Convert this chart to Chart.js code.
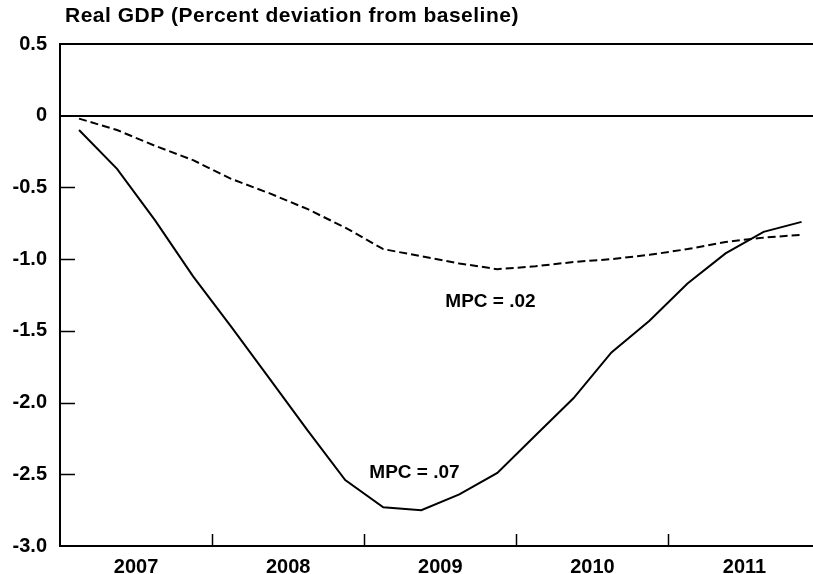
<!DOCTYPE html>
<html>
<head>
  <title>Real GDP</title>
  <script src="https://cdn.jsdelivr.net/npm/chart.js@4.4.0/dist/chart.umd.min.js"></script>
  <style>body { margin: 0; background: #fff; }</style>
</head>
<body>
  <canvas id="gdpChart" width="813" height="574"></canvas>

  <script>
    // quarterly simulation, percent deviation from baseline
    const quarters = ['2007Q1', '2007Q2', '2007Q3', '2007Q4', '2008Q1', '2008Q2', '2008Q3', '2008Q4',
                      '2009Q1', '2009Q2', '2009Q3', '2009Q4', '2010Q1', '2010Q2', '2010Q3', '2010Q4',
                      '2011Q1', '2011Q2', '2011Q3', '2011Q4'];
    const years = ['2007', '2008', '2009', '2010', '2011'];
    const mpc07 = [-0.10, -0.37, -0.73, -1.12, -1.47, -1.83, -2.19, -2.54, -2.73, -2.75,
                   -2.64, -2.49, -2.23, -1.97, -1.65, -1.43, -1.17, -0.96, -0.81, -0.74];
    const mpc02 = [-0.02, -0.10, -0.21, -0.31, -0.44, -0.54, -0.65, -0.78, -0.93, -0.98,
                   -1.03, -1.07, -1.05, -1.02, -1.00, -0.97, -0.93, -0.88, -0.85, -0.83];
    const yTicks = [0.5, 0, -0.5, -1.0, -1.5, -2.0, -2.5, -3.0];
    const title = 'Real GDP (Percent deviation from baseline)';

    const FONT = '"Liberation Sans", Arial, sans-serif';

    // quarter label -> decimal year at mid quarter
    function qPos(q) {
      return parseInt(q.slice(0, 4)) + (parseInt(q.slice(5)) - 0.5) / 4;
    }
    const toPoints = vals => vals.map((v, i) => ({ x: qPos(quarters[i]), y: v }));

    // title, inside tick marks and the MPC labels
    const extras = {
      id: 'extras',
      afterDraw(chart) {
        const { ctx, chartArea: a, scales: { x, y } } = chart;
        ctx.save();
        ctx.strokeStyle = '#000';
        ctx.lineWidth = 1.5;
        ctx.beginPath();
        yTicks.forEach(v => {
          if (v === 0.5 || v === 0 || v === -3) return;
          const py = Math.round(y.getPixelForValue(v)) + 0.5;
          ctx.moveTo(a.left, py);
          ctx.lineTo(a.left + 15, py);
        });
        years.slice(1).forEach(yr => {
          const px = Math.round(x.getPixelForValue(+yr)) + 0.5;
          ctx.moveTo(px, a.bottom);
          ctx.lineTo(px, a.bottom - 12);
        });
        ctx.stroke();

        ctx.fillStyle = '#000';
        ctx.font = 'bold 21px ' + FONT;
        ctx.letterSpacing = '0.5px';
        ctx.textBaseline = 'middle';
        ctx.textAlign = 'left';
        ctx.fillText(title, a.left + 5, 16);
        ctx.letterSpacing = '0px';

        ctx.font = 'bold 19px ' + FONT;
        ctx.textAlign = 'center';
        ctx.fillText('MPC = .02', x.getPixelForValue(2009.83), y.getPixelForValue(-1.30));
        ctx.fillText('MPC = .07', x.getPixelForValue(2009.33), y.getPixelForValue(-2.49));
        ctx.restore();
      }
    };

    const ctx = document.getElementById('gdpChart').getContext('2d');
    new Chart(ctx, {
      type: 'line',
      data: {
        datasets: [{
          label: 'MPC = .07',
          data: toPoints(mpc07),
          borderColor: '#000',
          borderWidth: 2,
          pointRadius: 0,
          fill: false,
          tension: 0
        }, {
          label: 'MPC = .02',
          data: toPoints(mpc02),
          borderColor: '#000',
          borderWidth: 2,
          borderDash: [8, 4],
          pointRadius: 0,
          fill: false,
          tension: 0
        }]
      },
      options: {
        responsive: false,
        animation: false,
        layout: { padding: { top: 44, left: 0, right: 0, bottom: 0 } },
        plugins: {
          legend: { display: false },
          tooltip: { enabled: false }
        },
        scales: {
          x: {
            type: 'linear',
            min: 2007,
            max: 2011.95,
            grid: { display: false },
            border: { display: true, color: '#000', width: 2 },
            afterBuildTicks: s => { s.ticks = years.map(yr => ({ value: +yr + 0.5 })); },
            afterFit: s => { s.height = 28; },
            ticks: {
              autoSkip: false,
              maxRotation: 0,
              padding: 1,
              color: '#000',
              font: { family: FONT, size: 20, weight: 'bold' },
              callback: v => String(Math.floor(v))
            }
          },
          y: {
            min: -3,
            max: 0.5,
            afterBuildTicks: s => { s.ticks = yTicks.map(v => ({ value: v })); },
            afterFit: s => { s.width = 60; },
            grid: {
              drawTicks: false,
              lineWidth: 2,
              color: c => (c.tick && (c.tick.value === 0 || c.tick.value === 0.5)) ? '#000' : 'rgba(0,0,0,0)'
            },
            border: { display: true, color: '#000', width: 2 },
            ticks: {
              padding: 13,
              color: '#000',
              font: { family: FONT, size: 20, weight: 'bold' },
              callback: v => v === 0 ? '0' : v.toFixed(1)
            }
          }
        }
      },
      plugins: [extras]
    });
  </script>
</body>
</html>
